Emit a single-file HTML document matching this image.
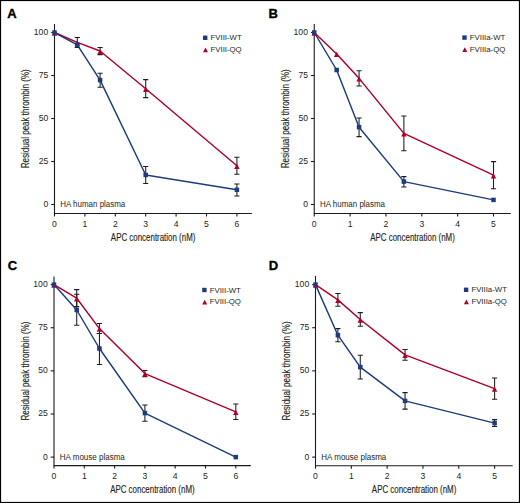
<!DOCTYPE html>
<html><head><meta charset="utf-8"><style>
html,body{margin:0;padding:0;background:#fff;}
svg{display:block;}
text{font-family:"Liberation Sans", sans-serif;fill:#231f20;}
.lt{font-weight:bold;font-size:13px;fill:#000;stroke:#000;stroke-width:0.35px;}
.tk{font-size:8.6px;}
.tt{font-size:10.5px;stroke:#231f20;stroke-width:0.15px;}
.pl{font-size:8.4px;}
.lg{font-size:7.8px;}
.ax{stroke:#1a1a1a;stroke-width:1.1;fill:none;}
.er{stroke:#1c1c1c;stroke-width:1.05;fill:none;}
</style></head><body>
<svg width="520" height="503" viewBox="0 0 520 503">
<rect x="0" y="0" width="520" height="503" fill="#fff"/>
<text x="7.2" y="17.8" class="lt">A</text>
<path d="M54.5 24V213.5H251.75" class="ax"/>
<path d="M51.2 204.5H54.5" class="ax"/>
<text x="48.2" y="206.9" class="tk" text-anchor="end">0</text>
<path d="M51.2 161.5H54.5" class="ax"/>
<text x="48.2" y="163.9" class="tk" text-anchor="end">25</text>
<path d="M51.2 118.5H54.5" class="ax"/>
<text x="48.2" y="120.9" class="tk" text-anchor="end">50</text>
<path d="M51.2 75.5H54.5" class="ax"/>
<text x="48.2" y="77.9" class="tk" text-anchor="end">75</text>
<path d="M51.2 32.5H54.5" class="ax"/>
<text x="48.2" y="34.9" class="tk" text-anchor="end">100</text>
<path d="M54.5 213.5V216.5" class="ax"/>
<text x="54.5" y="227" class="tk" text-anchor="middle">0</text>
<path d="M84.9 213.5V216.5" class="ax"/>
<text x="84.9" y="227" class="tk" text-anchor="middle">1</text>
<path d="M115.3 213.5V216.5" class="ax"/>
<text x="115.3" y="227" class="tk" text-anchor="middle">2</text>
<path d="M145.7 213.5V216.5" class="ax"/>
<text x="145.7" y="227" class="tk" text-anchor="middle">3</text>
<path d="M176.1 213.5V216.5" class="ax"/>
<text x="176.1" y="227" class="tk" text-anchor="middle">4</text>
<path d="M206.5 213.5V216.5" class="ax"/>
<text x="206.5" y="227" class="tk" text-anchor="middle">5</text>
<path d="M236.9 213.5V216.5" class="ax"/>
<text x="236.9" y="227" class="tk" text-anchor="middle">6</text>
<text x="153.12" y="240.8" class="tt" text-anchor="middle" textLength="84.5" lengthAdjust="spacingAndGlyphs">APC concentration (nM)</text>
<text transform="translate(29.2 118.75) rotate(-90)" x="0" y="0" class="tt" text-anchor="middle" textLength="99" lengthAdjust="spacingAndGlyphs">Residual peak thrombin (%)</text>
<text x="60.3" y="207.1" class="pl" textLength="65" lengthAdjust="spacingAndGlyphs">HA human plasma</text>
<rect x="203" y="35.6" width="4.4" height="4.4" fill="#1d3b7d"/>
<text x="210.5" y="40.3" class="lg">FVIII-WT</text>
<path d="M205.5 47.5L208 52.3L203 52.3Z" fill="#ae0029"/>
<text x="210.5" y="52.2" class="lg">FVIII-QQ</text>
<path d="M77.3 37.5V47.4M74.7 37.5H79.9M74.7 47.4H79.9" class="er"/>
<path d="M100.1 47.4V54.6M97.5 47.4H102.7M97.5 54.6H102.7" class="er"/>
<path d="M145.7 79.6V97.6M143.1 79.6H148.3M143.1 97.6H148.3" class="er"/>
<path d="M236.9 157.2V174.2M234.3 157.2H239.5M234.3 174.2H239.5" class="er"/>
<path d="M100.1 73.3V87.3M97.5 73.3H102.7M97.5 87.3H102.7" class="er"/>
<path d="M145.7 166.5V183.5M143.1 166.5H148.3M143.1 183.5H148.3" class="er"/>
<path d="M236.9 184V195.9M234.3 184H239.5M234.3 195.9H239.5" class="er"/>
<polyline points="54.5,32.5 77.3,42.4 100.1,51 145.7,88.7 236.9,165.7" fill="none" stroke="#ae0029" stroke-width="1.45" stroke-linejoin="round"/>
<polyline points="54.5,32.5 77.3,44.8 100.1,80.1 145.7,175 236.9,189.8" fill="none" stroke="#1d3b7d" stroke-width="1.45" stroke-linejoin="round"/>
<path d="M54.5 30.4L57.2 35.7L51.8 35.7Z" fill="#ae0029"/>
<path d="M77.3 40.3L80 45.6L74.6 45.6Z" fill="#ae0029"/>
<path d="M100.1 48.9L102.8 54.2L97.4 54.2Z" fill="#ae0029"/>
<path d="M145.7 86.6L148.4 91.9L143 91.9Z" fill="#ae0029"/>
<path d="M236.9 163.6L239.6 168.9L234.2 168.9Z" fill="#ae0029"/>
<rect x="52.25" y="30.25" width="4.5" height="4.5" fill="#1d3b7d"/>
<rect x="75.05" y="42.55" width="4.5" height="4.5" fill="#1d3b7d"/>
<rect x="97.85" y="77.85" width="4.5" height="4.5" fill="#1d3b7d"/>
<rect x="143.45" y="172.75" width="4.5" height="4.5" fill="#1d3b7d"/>
<rect x="234.65" y="187.55" width="4.5" height="4.5" fill="#1d3b7d"/>
<text x="268.6" y="17.8" class="lt">B</text>
<path d="M314.25 24V213.5H510.8" class="ax"/>
<path d="M310.95 204.5H314.25" class="ax"/>
<text x="307.95" y="206.9" class="tk" text-anchor="end">0</text>
<path d="M310.95 161.5H314.25" class="ax"/>
<text x="307.95" y="163.9" class="tk" text-anchor="end">25</text>
<path d="M310.95 118.5H314.25" class="ax"/>
<text x="307.95" y="120.9" class="tk" text-anchor="end">50</text>
<path d="M310.95 75.5H314.25" class="ax"/>
<text x="307.95" y="77.9" class="tk" text-anchor="end">75</text>
<path d="M310.95 32.5H314.25" class="ax"/>
<text x="307.95" y="34.9" class="tk" text-anchor="end">100</text>
<path d="M314.25 213.5V216.5" class="ax"/>
<text x="314.25" y="227" class="tk" text-anchor="middle">0</text>
<path d="M350.1 213.5V216.5" class="ax"/>
<text x="350.1" y="227" class="tk" text-anchor="middle">1</text>
<path d="M385.95 213.5V216.5" class="ax"/>
<text x="385.95" y="227" class="tk" text-anchor="middle">2</text>
<path d="M421.8 213.5V216.5" class="ax"/>
<text x="421.8" y="227" class="tk" text-anchor="middle">3</text>
<path d="M457.65 213.5V216.5" class="ax"/>
<text x="457.65" y="227" class="tk" text-anchor="middle">4</text>
<path d="M493.5 213.5V216.5" class="ax"/>
<text x="493.5" y="227" class="tk" text-anchor="middle">5</text>
<text x="412.52" y="240.8" class="tt" text-anchor="middle" textLength="84.5" lengthAdjust="spacingAndGlyphs">APC concentration (nM)</text>
<text transform="translate(288.95 118.75) rotate(-90)" x="0" y="0" class="tt" text-anchor="middle" textLength="99" lengthAdjust="spacingAndGlyphs">Residual peak thrombin (%)</text>
<text x="320.05" y="207.1" class="pl" textLength="65" lengthAdjust="spacingAndGlyphs">HA human plasma</text>
<rect x="462.3" y="35.4" width="4.4" height="4.4" fill="#1d3b7d"/>
<text x="469.8" y="40.1" class="lg">FVIIIa-WT</text>
<path d="M464.8 47.3L467.3 52.1L462.3 52.1Z" fill="#ae0029"/>
<text x="469.8" y="52" class="lg">FVIIIa-QQ</text>
<path d="M359.06 70.7V86M356.46 70.7H361.66M356.46 86H361.66" class="er"/>
<path d="M403.88 115.9V150.8M401.27 115.9H406.48M401.27 150.8H406.48" class="er"/>
<path d="M493.5 161.6V188.8M490.9 161.6H496.1M490.9 188.8H496.1" class="er"/>
<path d="M359.06 117.9V136.6M356.46 117.9H361.66M356.46 136.6H361.66" class="er"/>
<path d="M403.88 176.6V187M401.27 176.6H406.48M401.27 187H406.48" class="er"/>
<polyline points="314.25,32.5 336.66,53.9 359.06,78.35 403.88,133.35 493.5,175.2" fill="none" stroke="#ae0029" stroke-width="1.45" stroke-linejoin="round"/>
<polyline points="314.25,32.5 336.66,70 359.06,127.2 403.88,181.6 493.5,199.9" fill="none" stroke="#1d3b7d" stroke-width="1.45" stroke-linejoin="round"/>
<path d="M314.25 30.4L316.95 35.7L311.55 35.7Z" fill="#ae0029"/>
<path d="M336.66 51.8L339.36 57.1L333.96 57.1Z" fill="#ae0029"/>
<path d="M359.06 76.25L361.76 81.55L356.36 81.55Z" fill="#ae0029"/>
<path d="M403.88 131.25L406.57 136.55L401.18 136.55Z" fill="#ae0029"/>
<path d="M493.5 173.1L496.2 178.4L490.8 178.4Z" fill="#ae0029"/>
<rect x="312" y="30.25" width="4.5" height="4.5" fill="#1d3b7d"/>
<rect x="334.41" y="67.75" width="4.5" height="4.5" fill="#1d3b7d"/>
<rect x="356.81" y="124.95" width="4.5" height="4.5" fill="#1d3b7d"/>
<rect x="401.62" y="179.35" width="4.5" height="4.5" fill="#1d3b7d"/>
<rect x="491.25" y="197.65" width="4.5" height="4.5" fill="#1d3b7d"/>
<text x="7.75" y="269.6" class="lt">C</text>
<path d="M54 276.4V465.6H250.8" class="ax"/>
<path d="M50.7 457.1H54" class="ax"/>
<text x="47.7" y="459.5" class="tk" text-anchor="end">0</text>
<path d="M50.7 413.98H54" class="ax"/>
<text x="47.7" y="416.38" class="tk" text-anchor="end">25</text>
<path d="M50.7 370.85H54" class="ax"/>
<text x="47.7" y="373.25" class="tk" text-anchor="end">50</text>
<path d="M50.7 327.73H54" class="ax"/>
<text x="47.7" y="330.12" class="tk" text-anchor="end">75</text>
<path d="M50.7 284.6H54" class="ax"/>
<text x="47.7" y="287" class="tk" text-anchor="end">100</text>
<path d="M54 465.6V468.6" class="ax"/>
<text x="54" y="479.1" class="tk" text-anchor="middle">0</text>
<path d="M84.3 465.6V468.6" class="ax"/>
<text x="84.3" y="479.1" class="tk" text-anchor="middle">1</text>
<path d="M114.6 465.6V468.6" class="ax"/>
<text x="114.6" y="479.1" class="tk" text-anchor="middle">2</text>
<path d="M144.9 465.6V468.6" class="ax"/>
<text x="144.9" y="479.1" class="tk" text-anchor="middle">3</text>
<path d="M175.2 465.6V468.6" class="ax"/>
<text x="175.2" y="479.1" class="tk" text-anchor="middle">4</text>
<path d="M205.5 465.6V468.6" class="ax"/>
<text x="205.5" y="479.1" class="tk" text-anchor="middle">5</text>
<path d="M235.8 465.6V468.6" class="ax"/>
<text x="235.8" y="479.1" class="tk" text-anchor="middle">6</text>
<text x="152.4" y="492.9" class="tt" text-anchor="middle" textLength="84.5" lengthAdjust="spacingAndGlyphs">APC concentration (nM)</text>
<text transform="translate(28.7 371) rotate(-90)" x="0" y="0" class="tt" text-anchor="middle" textLength="99" lengthAdjust="spacingAndGlyphs">Residual peak thrombin (%)</text>
<text x="59.8" y="459.7" class="pl" textLength="65" lengthAdjust="spacingAndGlyphs">HA mouse plasma</text>
<rect x="202.2" y="287.8" width="4.4" height="4.4" fill="#1d3b7d"/>
<text x="209.7" y="292.5" class="lg">FVIII-WT</text>
<path d="M204.7 299.7L207.2 304.5L202.2 304.5Z" fill="#ae0029"/>
<text x="209.7" y="304.4" class="lg">FVIII-QQ</text>
<path d="M76.72 289.6V306.6M74.12 289.6H79.32M74.12 306.6H79.32" class="er"/>
<path d="M99.45 323.5V333.4M96.85 323.5H102.05M96.85 333.4H102.05" class="er"/>
<path d="M144.9 370.4V376.8M142.3 370.4H147.5M142.3 376.8H147.5" class="er"/>
<path d="M235.8 403.9V419.5M233.2 403.9H238.4M233.2 419.5H238.4" class="er"/>
<path d="M76.72 294.3V325.3M74.12 294.3H79.32M74.12 325.3H79.32" class="er"/>
<path d="M99.45 333.4V364.4M96.85 333.4H102.05M96.85 364.4H102.05" class="er"/>
<path d="M144.9 405V421.2M142.3 405H147.5M142.3 421.2H147.5" class="er"/>
<polyline points="54,284.6 76.72,298.2 99.45,328.6 144.9,373.6 235.8,411.9" fill="none" stroke="#ae0029" stroke-width="1.45" stroke-linejoin="round"/>
<polyline points="54,284.6 76.72,310 99.45,348.5 144.9,413.1 235.8,457.1" fill="none" stroke="#1d3b7d" stroke-width="1.45" stroke-linejoin="round"/>
<path d="M54 282.5L56.7 287.8L51.3 287.8Z" fill="#ae0029"/>
<path d="M76.72 296.1L79.42 301.4L74.02 301.4Z" fill="#ae0029"/>
<path d="M99.45 326.5L102.15 331.8L96.75 331.8Z" fill="#ae0029"/>
<path d="M144.9 371.5L147.6 376.8L142.2 376.8Z" fill="#ae0029"/>
<path d="M235.8 409.8L238.5 415.1L233.1 415.1Z" fill="#ae0029"/>
<rect x="51.75" y="282.35" width="4.5" height="4.5" fill="#1d3b7d"/>
<rect x="74.47" y="307.75" width="4.5" height="4.5" fill="#1d3b7d"/>
<rect x="97.2" y="346.25" width="4.5" height="4.5" fill="#1d3b7d"/>
<rect x="142.65" y="410.85" width="4.5" height="4.5" fill="#1d3b7d"/>
<rect x="233.55" y="454.85" width="4.5" height="4.5" fill="#1d3b7d"/>
<text x="268.8" y="269.7" class="lt">D</text>
<path d="M315.5 276.1V465.7H512.7" class="ax"/>
<path d="M312.2 457.1H315.5" class="ax"/>
<text x="309.2" y="459.5" class="tk" text-anchor="end">0</text>
<path d="M312.2 413.98H315.5" class="ax"/>
<text x="309.2" y="416.38" class="tk" text-anchor="end">25</text>
<path d="M312.2 370.85H315.5" class="ax"/>
<text x="309.2" y="373.25" class="tk" text-anchor="end">50</text>
<path d="M312.2 327.73H315.5" class="ax"/>
<text x="309.2" y="330.12" class="tk" text-anchor="end">75</text>
<path d="M312.2 284.6H315.5" class="ax"/>
<text x="309.2" y="287" class="tk" text-anchor="end">100</text>
<path d="M315.5 465.7V468.7" class="ax"/>
<text x="315.5" y="479.2" class="tk" text-anchor="middle">0</text>
<path d="M351.32 465.7V468.7" class="ax"/>
<text x="351.32" y="479.2" class="tk" text-anchor="middle">1</text>
<path d="M387.14 465.7V468.7" class="ax"/>
<text x="387.14" y="479.2" class="tk" text-anchor="middle">2</text>
<path d="M422.96 465.7V468.7" class="ax"/>
<text x="422.96" y="479.2" class="tk" text-anchor="middle">3</text>
<path d="M458.78 465.7V468.7" class="ax"/>
<text x="458.78" y="479.2" class="tk" text-anchor="middle">4</text>
<path d="M494.6 465.7V468.7" class="ax"/>
<text x="494.6" y="479.2" class="tk" text-anchor="middle">5</text>
<text x="414.1" y="493" class="tt" text-anchor="middle" textLength="84.5" lengthAdjust="spacingAndGlyphs">APC concentration (nM)</text>
<text transform="translate(290.2 370.9) rotate(-90)" x="0" y="0" class="tt" text-anchor="middle" textLength="99" lengthAdjust="spacingAndGlyphs">Residual peak thrombin (%)</text>
<text x="321.3" y="459.7" class="pl" textLength="65" lengthAdjust="spacingAndGlyphs">HA mouse plasma</text>
<rect x="463.9" y="287.6" width="4.4" height="4.4" fill="#1d3b7d"/>
<text x="471.4" y="292.3" class="lg">FVIIIa-WT</text>
<path d="M466.4 299.5L468.9 304.3L463.9 304.3Z" fill="#ae0029"/>
<text x="471.4" y="304.2" class="lg">FVIIIa-QQ</text>
<path d="M337.89 293.5V306.3M335.29 293.5H340.49M335.29 306.3H340.49" class="er"/>
<path d="M360.27 312.6V326.3M357.67 312.6H362.88M357.67 326.3H362.88" class="er"/>
<path d="M405.05 349.5V360.2M402.45 349.5H407.65M402.45 360.2H407.65" class="er"/>
<path d="M494.6 378V399.3M492 378H497.2M492 399.3H497.2" class="er"/>
<path d="M337.89 328.6V341.8M335.29 328.6H340.49M335.29 341.8H340.49" class="er"/>
<path d="M360.27 355.2V379M357.67 355.2H362.88M357.67 379H362.88" class="er"/>
<path d="M405.05 392.6V409.1M402.45 392.6H407.65M402.45 409.1H407.65" class="er"/>
<path d="M494.6 419.6V426.5M492 419.6H497.2M492 426.5H497.2" class="er"/>
<polyline points="315.5,284.6 337.89,299.9 360.27,319.45 405.05,354.9 494.6,388.6" fill="none" stroke="#ae0029" stroke-width="1.45" stroke-linejoin="round"/>
<polyline points="315.5,284.6 337.89,335.2 360.27,367.1 405.05,400.9 494.6,423.1" fill="none" stroke="#1d3b7d" stroke-width="1.45" stroke-linejoin="round"/>
<path d="M315.5 282.5L318.2 287.8L312.8 287.8Z" fill="#ae0029"/>
<path d="M337.89 297.8L340.59 303.1L335.19 303.1Z" fill="#ae0029"/>
<path d="M360.27 317.35L362.97 322.65L357.57 322.65Z" fill="#ae0029"/>
<path d="M405.05 352.8L407.75 358.1L402.35 358.1Z" fill="#ae0029"/>
<path d="M494.6 386.5L497.3 391.8L491.9 391.8Z" fill="#ae0029"/>
<rect x="313.25" y="282.35" width="4.5" height="4.5" fill="#1d3b7d"/>
<rect x="335.64" y="332.95" width="4.5" height="4.5" fill="#1d3b7d"/>
<rect x="358.02" y="364.85" width="4.5" height="4.5" fill="#1d3b7d"/>
<rect x="402.8" y="398.65" width="4.5" height="4.5" fill="#1d3b7d"/>
<rect x="492.35" y="420.85" width="4.5" height="4.5" fill="#1d3b7d"/>
<rect x="0.5" y="0.5" width="519" height="502" fill="none" stroke="#000" stroke-width="1.2"/>
</svg>
</body></html>
